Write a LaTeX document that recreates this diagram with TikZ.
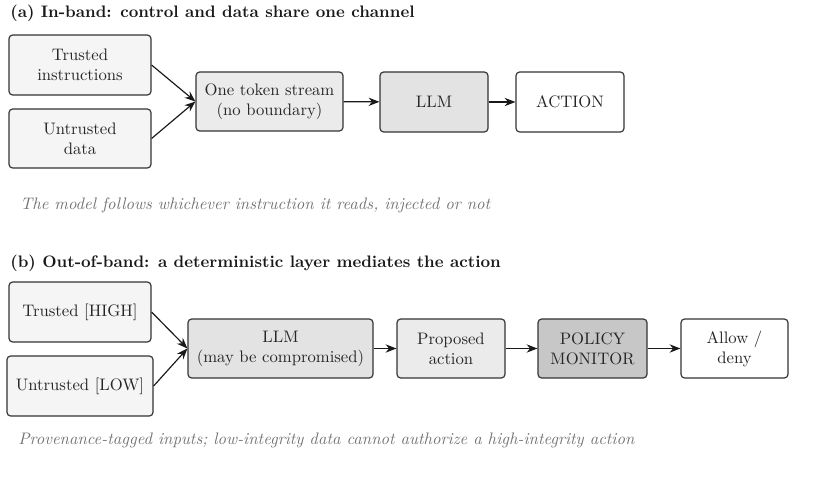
\documentclass[tikz,border=0pt]{standalone}
\usetikzlibrary{arrows.meta}
\begin{document}
\begin{tikzpicture}[x=0.6pt,y=-0.6pt,
  sz/.style 2 args={minimum width=#1*0.6pt, minimum height=#2*0.6pt},
  box/.style={draw=black!80, line width=0.7pt, rounded corners=2.2pt, align=center, text=black!85, inner sep=2pt},
  inbox/.style={box, fill=black!4},
  midbox/.style={box, fill=black!8},
  llmbox/.style={box, fill=black!11},
  polbox/.style={box, fill=black!22},
  outbox/.style={box, fill=white},
  ttl/.style={anchor=west, font=\bfseries, text=black!90, inner sep=0pt},
  captxt/.style={anchor=west, font=\itshape, text=black!55, inner sep=0pt},
  arr/.style={-{Stealth[length=6.5pt,width=5pt]}, line width=0.7pt, black!90}
]
\useasboundingbox (0,0) rectangle (834,487);

% (a)
\node[ttl] (ta) at (10,13.5) {(a) In-band: control and data share one channel};
\node[inbox, sz={142}{60}] (ti) at (80,65) {Trusted\\instructions};
\node[inbox, sz={142}{59}] (ud) at (80,138.5) {Untrusted\\data};
\node[midbox, sz={147}{59}] (ts) at (269.5,101.5) {One token stream\\(no boundary)};
\node[llmbox, sz={108}{60}] (llma) at (434,102) {LLM};
\node[outbox, sz={108}{60}] (act) at (570,102) {ACTION};
\draw[arr] (ti.east) -- (ts.west);
\draw[arr] (ud.east) -- (ts.west);
\draw[arr] (ts) -- (llma);
\draw[arr] (llma) -- (act);
\node[captxt] (ca) at (20,205) {The model follows whichever instruction it reads, injected or not};

% (b)
\node[ttl] (tb) at (10,263.5) {(b) Out-of-band: a deterministic layer mediates the action};
\node[inbox, sz={142}{60}] (th) at (80,312) {Trusted [HIGH]};
\node[inbox, sz={146}{60}] (ul) at (80,386) {Untrusted [LOW]};
\node[llmbox, sz={185}{59}] (llmb) at (280.5,348.5) {LLM\\(may be compromised)};
\node[midbox, sz={108}{59}] (pa) at (451,348.5) {Proposed\\action};
\node[polbox, sz={109}{59}] (pm) at (592.5,348.5) {POLICY\\MONITOR};
\node[outbox, sz={107}{59}] (ad) at (734.5,348.5) {Allow /\\deny};
\draw[arr] (th.east) -- (llmb.west);
\draw[arr] (ul.east) -- (llmb.west);
\draw[arr] (llmb) -- (pa);
\draw[arr] (pa) -- (pm);
\draw[arr] (pm) -- (ad);
\node[captxt] (cb) at (18,440) {Provenance-tagged inputs; low-integrity data cannot authorize a high-integrity action};
\end{tikzpicture}
\end{document}
